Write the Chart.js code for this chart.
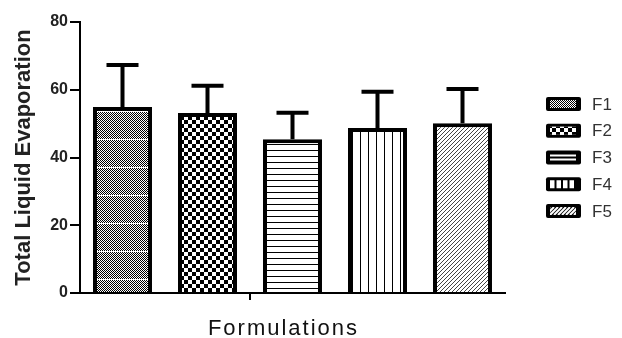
<!DOCTYPE html>
<html>
<head>
<meta charset="utf-8">
<script src="https://cdn.jsdelivr.net/npm/chart.js@4.4.0/dist/chart.umd.min.js"></script>
<style>
html, body { margin: 0; padding: 0; background: #fff; }
#wrap { width: 622px; height: 338px; }
</style>
</head>
<body>
<div id="wrap"><canvas id="chart"></canvas></div>
<script>
const formulations = ["F1", "F2", "F3", "F4", "F5"];
const meanEvaporation = [54.9, 53.1, 45.4, 48.7, 50.1];
const sdEvaporation = [12.4, 8.1, 7.8, 10.7, 10.1];
const yTicks = [0, 20, 40, 60, 80];

const canvas = document.getElementById('chart');
const mainCtx = canvas.getContext('2d');

function makePattern(w, h, draw) {
    const c = document.createElement('canvas');
    c.width = w; c.height = h;
    const g = c.getContext('2d');
    g.fillStyle = '#fff';
    g.fillRect(0, 0, w, h);
    g.fillStyle = '#000';
    draw(g);
    return mainCtx.createPattern(c, 'repeat');
}

// black and white hatches, one per formulation
const patterns = [
    makePattern(2, 28, g => {
        for (let y = 0; y < 27; y++) {
            for (let x = 0; x < 2; x++) {
                if ((x + y) % 2 === 0) g.fillRect(x, y, 1, 1);
            }
        }
    }),
    makePattern(8, 8, g => {
        g.fillRect(0, 0, 4, 4);
        g.fillRect(4, 4, 4, 4);
    }),
    makePattern(1, 6, g => { g.fillRect(0, 0, 1, 1); }),
    makePattern(8, 1, g => { g.fillRect(0, 0, 1, 1); }),
    makePattern(4, 4, g => {
        g.fillStyle = '#444';
        for (let i = 0; i < 4; i++) g.fillRect(i, 3 - i, 1, 1);
    })
];

const errorBars = {
    id: 'errorBars',
    afterDatasetsDraw(chart) {
        const ctx = chart.ctx;
        const y = chart.scales.y;
        const meta = chart.getDatasetMeta(0);
        ctx.save();
        ctx.strokeStyle = '#000';
        ctx.lineWidth = 4;
        meta.data.forEach((bar, i) => {
            const top = y.getPixelForValue(meanEvaporation[i] + sdEvaporation[i]);
            ctx.beginPath();
            ctx.moveTo(bar.x, bar.y);
            ctx.lineTo(bar.x, top);
            ctx.moveTo(bar.x - 16, top);
            ctx.lineTo(bar.x + 16, top);
            ctx.stroke();
        });
        ctx.restore();
    }
};

function drawLegendBox(ctx, i, x, y, w, h) {
    ctx.fillStyle = '#000';
    ctx.beginPath();
    ctx.roundRect(x, y, w, h, 2);
    ctx.fill();
    const ix = x + 4, iy = y + 3, iw = w - 9, ih = h - 6;
    ctx.fillStyle = '#fff';
    if (i === 0 || i === 1) {
        ctx.fillRect(ix, iy, iw, ih);
        ctx.fillStyle = patterns[i];
        ctx.fillRect(ix, iy, iw, ih);
    } else if (i === 2) {
        ctx.fillRect(ix, iy + 1, iw, 2);
        ctx.fillRect(ix, iy + ih - 3, iw, 2);
    } else if (i === 3) {
        for (let k = 0; k < 4; k++) ctx.fillRect(ix + k * 6.5, iy, 4.5, ih);
    } else {
        ctx.save();
        ctx.beginPath();
        ctx.rect(ix, iy, iw, ih);
        ctx.clip();
        ctx.strokeStyle = '#fff';
        ctx.lineWidth = 2;
        for (let k = -3; k < 10; k++) {
            ctx.beginPath();
            ctx.moveTo(ix + k * 4, iy + ih);
            ctx.lineTo(ix + k * 4 + ih, iy);
            ctx.stroke();
        }
        ctx.restore();
    }
}

const sideLegend = {
    id: 'sideLegend',
    afterDraw(chart) {
        const ctx = chart.ctx;
        const area = chart.chartArea;
        const step = 26.75;
        const mid = (area.top + area.bottom) / 2;
        ctx.save();
        formulations.forEach((name, i) => {
            const cy = mid + (i - 2) * step;
            drawLegendBox(ctx, i, 546, cy - 7, 35, 14);
            ctx.fillStyle = '#333';
            ctx.font = '17px "Liberation Sans", Arial, sans-serif';
            ctx.textBaseline = 'middle';
            ctx.textAlign = 'left';
            ctx.fillText(name, 592, cy + 1);
        });
        // x axis title
        ctx.fillStyle = '#111';
        ctx.font = '22px "Liberation Sans", Arial, sans-serif';
        ctx.letterSpacing = '2px';
        ctx.textAlign = 'center';
        ctx.textBaseline = 'alphabetic';
        ctx.fillText('Formulations', (area.left + area.right) / 2 - 9, 335);
        ctx.restore();
    }
};

new Chart(mainCtx, {
    type: 'bar',
    data: {
        labels: formulations,
        datasets: [{
            data: meanEvaporation,
            backgroundColor: patterns,
            borderColor: '#000',
            borderWidth: 4,
            borderSkipped: 'start',
            barPercentage: 0.694,
            categoryPercentage: 1
        }]
    },
    options: {
        responsive: true,
        maintainAspectRatio: false,
        animation: false,
        devicePixelRatio: 1,
        layout: { padding: { top: 22, right: 117, left: 0, bottom: 0 } },
        plugins: {
            legend: { display: false },
            tooltip: { enabled: false }
        },
        scales: {
            x: {
                afterFit: s => { s.height = 45; },
                ticks: { display: false },
                grid: {
                    drawOnChartArea: false,
                    drawTicks: true,
                    tickLength: 7,
                    lineWidth: 2,
                    color: c => c.index === 2 ? '#000' : 'rgba(0,0,0,0)'
                },
                border: { display: true, color: '#000', width: 2 }
            },
            y: {
                min: 0,
                max: 80,
                afterFit: s => { s.width = 80; },
                afterBuildTicks: s => { s.ticks = yTicks.map(v => ({ value: v })); },
                ticks: {
                    color: '#222',
                    padding: 2,
                    font: { family: '"Liberation Sans", Arial, sans-serif', size: 16, weight: 'bold' }
                },
                grid: {
                    drawOnChartArea: false,
                    drawTicks: true,
                    tickLength: 10,
                    lineWidth: 2,
                    color: '#000'
                },
                border: { display: true, color: '#000', width: 2 },
                title: {
                    display: true,
                    text: 'Total Liquid Evaporation',
                    color: '#222',
                    padding: { top: 11, bottom: 0 },
                    font: { family: '"Liberation Sans", Arial, sans-serif', size: 22, weight: 'bold' }
                }
            }
        }
    },
    plugins: [errorBars, sideLegend]
});
</script>
</body>
</html>
